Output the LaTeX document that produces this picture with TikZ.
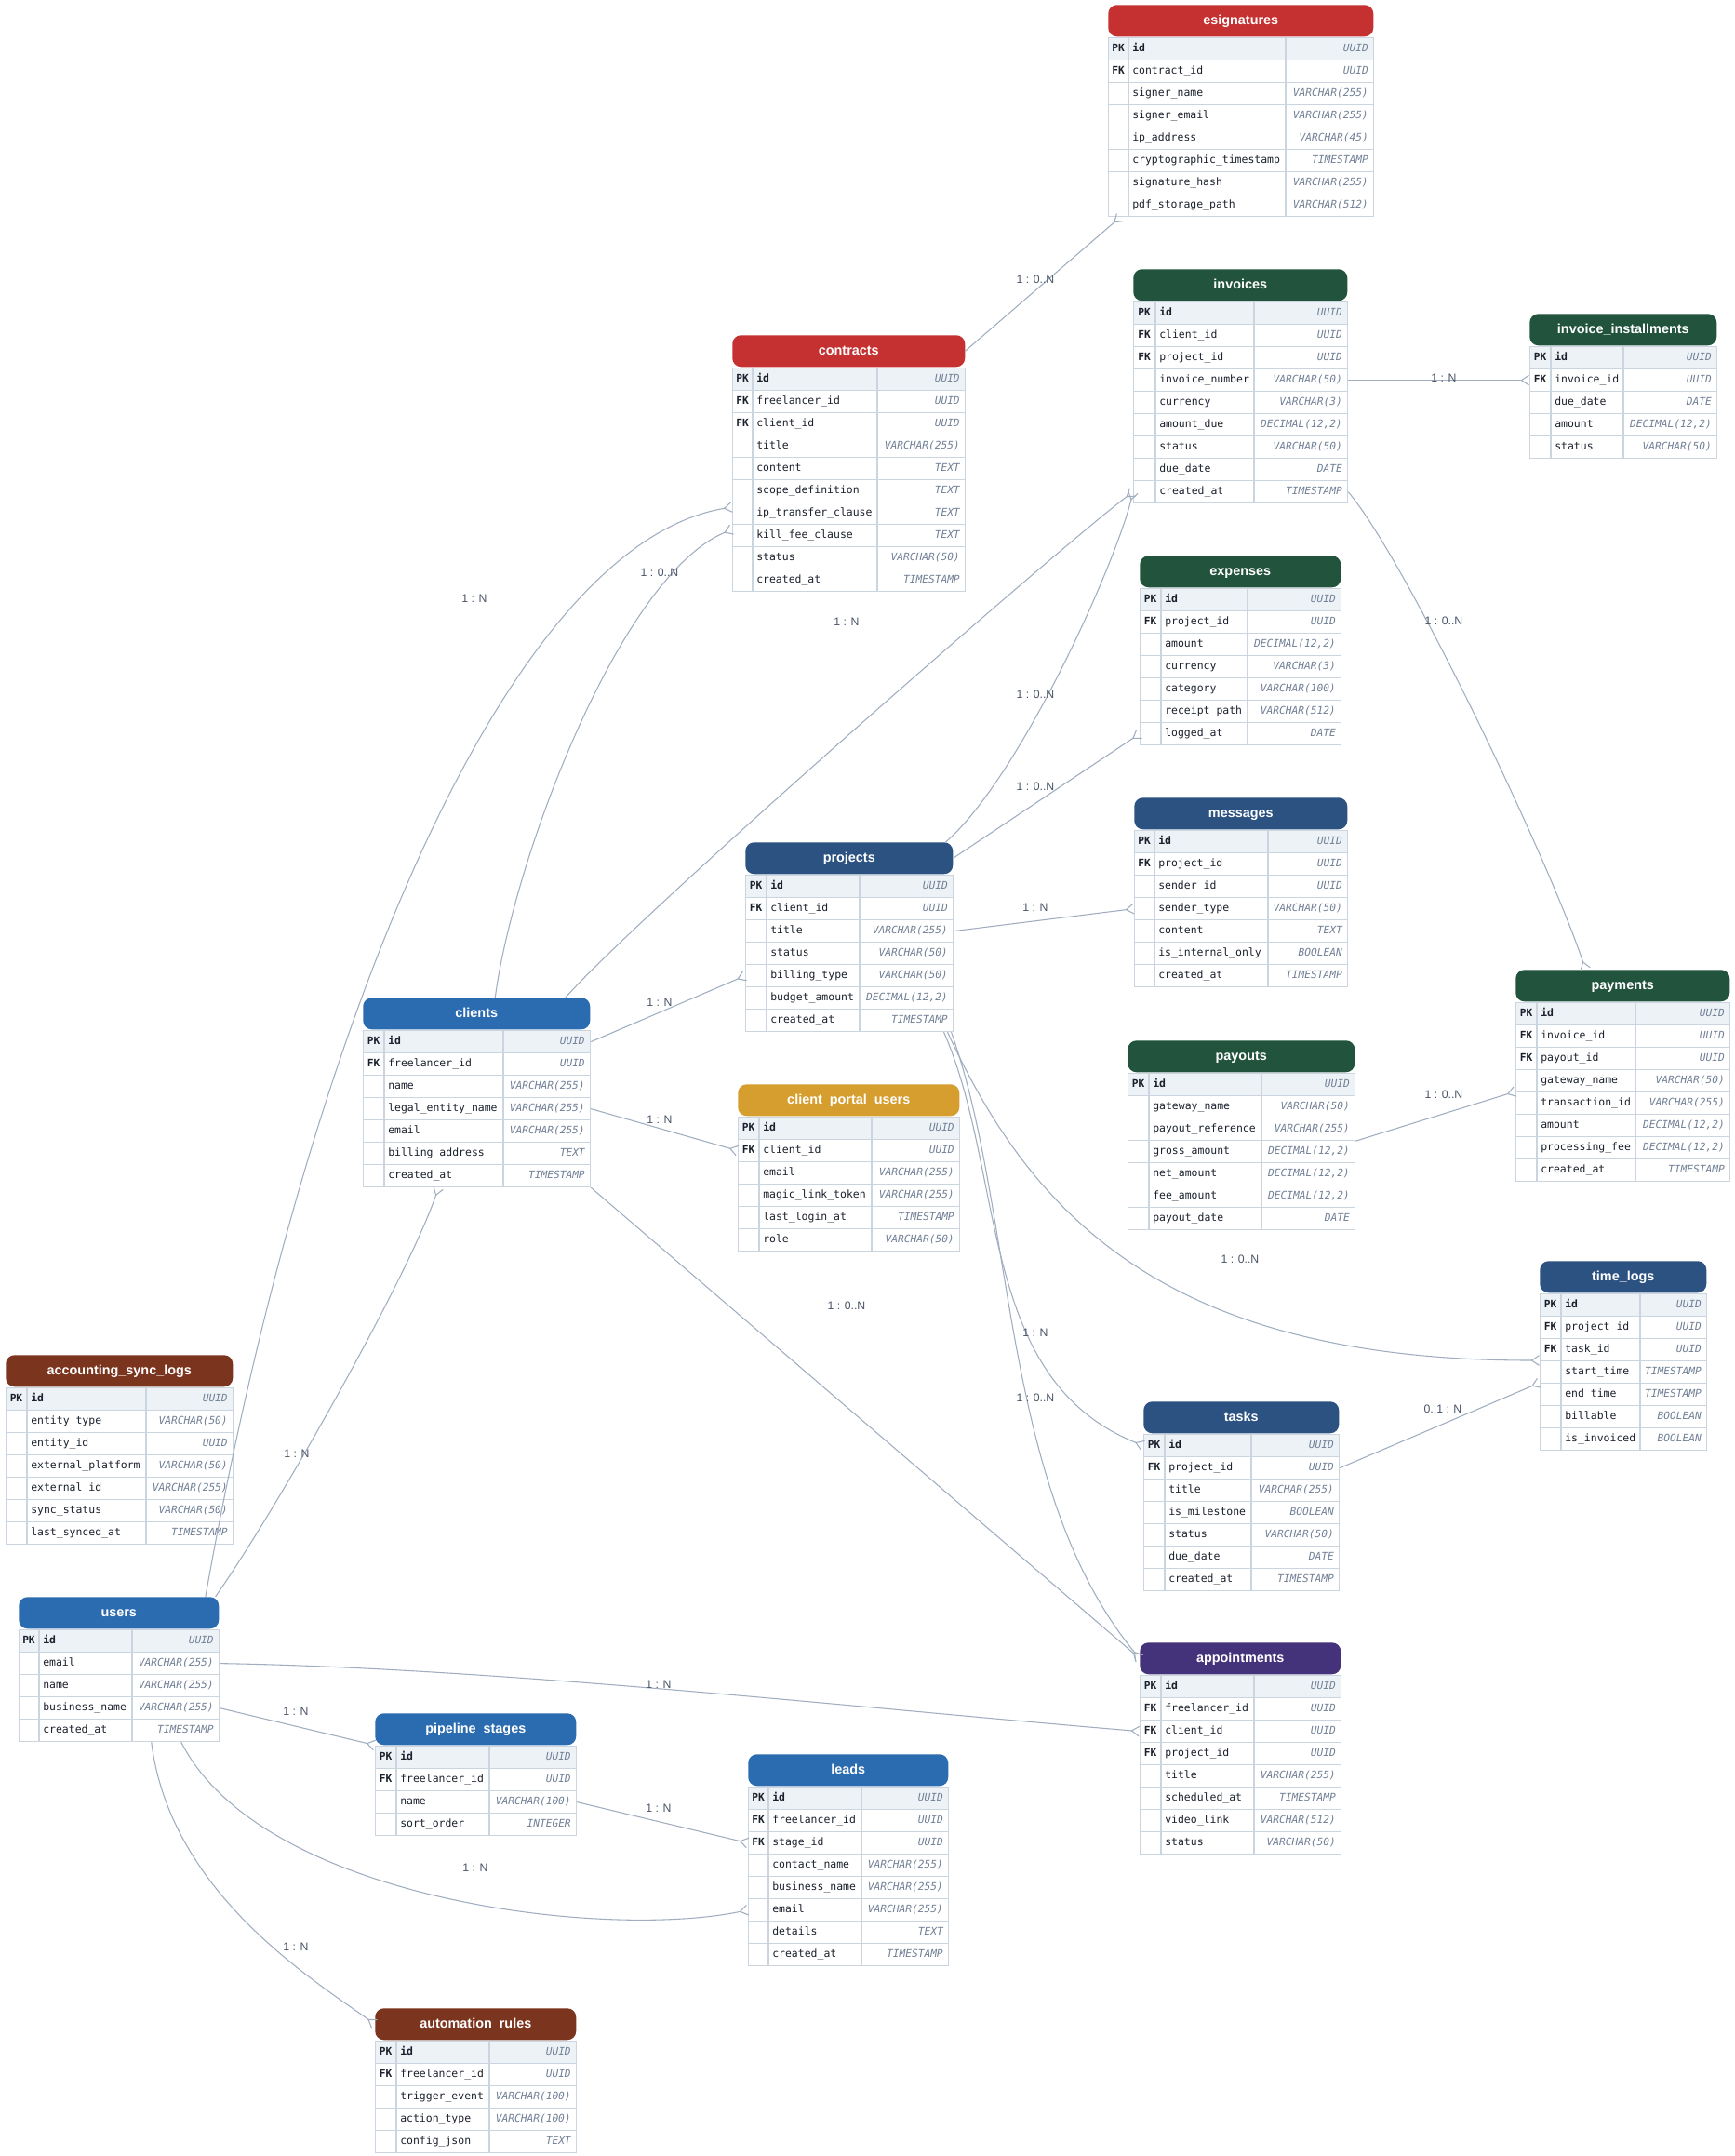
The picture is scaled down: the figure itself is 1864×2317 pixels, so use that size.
\documentclass[tikz,border=0pt]{standalone}
\usepackage{fontspec}
\setmainfont{Liberation Sans}
\setmonofont{DejaVu Sans Mono}
\usetikzlibrary{arrows.meta}

\definecolor{hdred}{HTML}{C53030}
\definecolor{hdgreen}{HTML}{22543D}
\definecolor{hdnavy}{HTML}{2C5282}
\definecolor{hdblue}{HTML}{2B6CB0}
\definecolor{hdgold}{HTML}{D69E2E}
\definecolor{hdbrown}{HTML}{7B341E}
\definecolor{hdpurple}{HTML}{44337A}
\definecolor{gridline}{HTML}{CBD5E0}
\definecolor{pkfill}{HTML}{EDF2F7}
\definecolor{typegray}{HTML}{718096}
\definecolor{fieldblack}{HTML}{1A202C}
\definecolor{edgegray}{HTML}{A0AEC0}
\definecolor{labelgray}{HTML}{4A5568}

\tikzset{
  erhead/.style={rounded corners=7pt, inner sep=0pt, minimum height=25.5pt, text=white,
    font=\rmfamily\bfseries\fontsize{10.8}{12}\selectfont, text height=8pt, text depth=2.2pt},
  errow/.style={draw=gridline, line width=0.9pt, inner sep=0pt, minimum height=18pt},
  ercol/.style={draw=gridline, line width=0.9pt},
  erkey/.style={inner sep=0pt, text=fieldblack, font=\ttfamily\bfseries\fontsize{8.4}{10}\selectfont,
    text height=6.5pt, text depth=1.8pt},
  erfield/.style={inner sep=0pt, text=fieldblack, font=\ttfamily\fontsize{8.6}{10}\selectfont,
    text height=6.5pt, text depth=1.8pt},
  ertype/.style={inner sep=0pt, text=typegray, font=\ttfamily\itshape\fontsize{8.4}{10}\selectfont,
    text height=6.5pt, text depth=1.8pt},
  rel/.style={draw=edgegray, line width=0.8pt, -{Straight Barb[reversed, length=6pt, width=8pt]}},
  lbl/.style={inner sep=1pt, text=labelgray, font=\rmfamily\fontsize{9.2}{11}\selectfont}
}

% table: name, colour, left, top, key|field x, field|type x, right, rows
\newcommand{\ertable}[8]{%
  \node[erhead, fill=#2, minimum width={(#7-#3)*0.75pt}, anchor=north west] (#1) at (#3,#4) {#1};
  \foreach \k/\f/\t [count=\i] in {#8}{
    \pgfmathsetmacro{\ya}{#4+35+(\i-1)*24}
    \pgfmathsetmacro{\yb}{\ya+24}
    \ifnum\i=1 \def\rowfill{pkfill}\def\fw{\bfseries}\else\def\rowfill{white}\def\fw{}\fi
    \node[errow, fill=\rowfill, minimum width={(#7-#3)*0.75pt}, anchor=north west] (#1-\i) at (#3,\ya) {};
    \draw[ercol] (#5,\ya) -- (#5,\yb) (#6,\ya) -- (#6,\yb);
    \node[erkey] (#1-\i-key) at ({(#3+#5)/2},\ya+12) {\k};
    \node[erfield, anchor=west] (#1-\i-name) at (#5+4,\ya+12) {\fw\f};
    \node[ertype, anchor=east] (#1-\i-type) at (#7-5,\ya+12) {\t};
  }
}

\catcode`\_=12

\begin{document}
\begin{tikzpicture}[x=0.75pt, y=-0.75pt]
	\fill[white] (0,0) rectangle (1864,2317);
	\useasboundingbox (0,0) rectangle (1864,2317);
	%
	\ertable{esignatures}{hdred}{1191}{5}{1213}{1382}{1476}{PK/id/UUID, FK/contract_id/UUID, /signer_name/VARCHAR(255), /signer_email/VARCHAR(255), /ip_address/VARCHAR(45), /cryptographic_timestamp/TIMESTAMP, /signature_hash/VARCHAR(255), /pdf_storage_path/VARCHAR(512)}
	\ertable{contracts}{hdred}{787}{360}{809}{943}{1037}{PK/id/UUID, FK/freelancer_id/UUID, FK/client_id/UUID, /title/VARCHAR(255), /content/TEXT, /scope_definition/TEXT, /ip_transfer_clause/TEXT, /kill_fee_clause/TEXT, /status/VARCHAR(50), /created_at/TIMESTAMP}
	\ertable{invoices}{hdgreen}{1218}{289}{1242}{1348}{1448}{PK/id/UUID, FK/client_id/UUID, FK/project_id/UUID, /invoice_number/VARCHAR(50), /currency/VARCHAR(3), /amount_due/{DECIMAL(12,2)}, /status/VARCHAR(50), /due_date/DATE, /created_at/TIMESTAMP}
	\ertable{invoice_installments}{hdgreen}{1644}{337}{1667}{1745}{1845}{PK/id/UUID, FK/invoice_id/UUID, /due_date/DATE, /amount/{DECIMAL(12,2)}, /status/VARCHAR(50)}
	\ertable{expenses}{hdgreen}{1225}{597}{1248}{1341}{1441}{PK/id/UUID, FK/project_id/UUID, /amount/{DECIMAL(12,2)}, /currency/VARCHAR(3), /category/VARCHAR(100), /receipt_path/VARCHAR(512), /logged_at/DATE}
	\ertable{messages}{hdnavy}{1219}{857}{1241}{1363}{1448}{PK/id/UUID, FK/project_id/UUID, /sender_id/UUID, /sender_type/VARCHAR(50), /content/TEXT, /is_internal_only/BOOLEAN, /created_at/TIMESTAMP}
	\ertable{projects}{hdnavy}{801}{905}{824}{924}{1024}{PK/id/UUID, FK/client_id/UUID, /title/VARCHAR(255), /status/VARCHAR(50), /billing_type/VARCHAR(50), /budget_amount/{DECIMAL(12,2)}, /created_at/TIMESTAMP}
	\ertable{client_portal_users}{hdgold}{793}{1165}{816}{937}{1031}{PK/id/UUID, FK/client_id/UUID, /email/VARCHAR(255), /magic_link_token/VARCHAR(255), /last_login_at/TIMESTAMP, /role/VARCHAR(50)}
	\ertable{clients}{hdblue}{390}{1072}{413}{541}{634}{PK/id/UUID, FK/freelancer_id/UUID, /name/VARCHAR(255), /legal_entity_name/VARCHAR(255), /email/VARCHAR(255), /billing_address/TEXT, /created_at/TIMESTAMP}
	\ertable{payouts}{hdgreen}{1212}{1118}{1235}{1356}{1456}{PK/id/UUID, /gateway_name/VARCHAR(50), /payout_reference/VARCHAR(255), /gross_amount/{DECIMAL(12,2)}, /net_amount/{DECIMAL(12,2)}, /fee_amount/{DECIMAL(12,2)}, /payout_date/DATE}
	\ertable{payments}{hdgreen}{1629}{1042}{1652}{1758}{1859}{PK/id/UUID, FK/invoice_id/UUID, FK/payout_id/UUID, /gateway_name/VARCHAR(50), /transaction_id/VARCHAR(255), /amount/{DECIMAL(12,2)}, /processing_fee/{DECIMAL(12,2)}, /created_at/TIMESTAMP}
	\ertable{time_logs}{hdnavy}{1655}{1355}{1678}{1763}{1834}{PK/id/UUID, FK/project_id/UUID, FK/task_id/UUID, /start_time/TIMESTAMP, /end_time/TIMESTAMP, /billable/BOOLEAN, /is_invoiced/BOOLEAN}
	\ertable{tasks}{hdnavy}{1229}{1506}{1252}{1345}{1439}{PK/id/UUID, FK/project_id/UUID, /title/VARCHAR(255), /is_milestone/BOOLEAN, /status/VARCHAR(50), /due_date/DATE, /created_at/TIMESTAMP}
	\ertable{accounting_sync_logs}{hdbrown}{6}{1456}{29}{157}{250}{PK/id/UUID, /entity_type/VARCHAR(50), /entity_id/UUID, /external_platform/VARCHAR(50), /external_id/VARCHAR(255), /sync_status/VARCHAR(50), /last_synced_at/TIMESTAMP}
	\ertable{users}{hdblue}{20}{1716}{42}{142}{235}{PK/id/UUID, /email/VARCHAR(255), /name/VARCHAR(255), /business_name/VARCHAR(255), /created_at/TIMESTAMP}
	\ertable{pipeline_stages}{hdblue}{403}{1841}{426}{526}{619}{PK/id/UUID, FK/freelancer_id/UUID, /name/VARCHAR(100), /sort_order/INTEGER}
	\ertable{appointments}{hdpurple}{1225}{1765}{1248}{1348}{1441}{PK/id/UUID, FK/freelancer_id/UUID, FK/client_id/UUID, FK/project_id/UUID, /title/VARCHAR(255), /scheduled_at/TIMESTAMP, /video_link/VARCHAR(512), /status/VARCHAR(50)}
	\ertable{leads}{hdblue}{804}{1885}{826}{926}{1019}{PK/id/UUID, FK/freelancer_id/UUID, FK/stage_id/UUID, /contact_name/VARCHAR(255), /business_name/VARCHAR(255), /email/VARCHAR(255), /details/TEXT, /created_at/TIMESTAMP}
	\ertable{automation_rules}{hdbrown}{403}{2158}{426}{526}{619}{PK/id/UUID, FK/freelancer_id/UUID, /trigger_event/VARCHAR(100), /action_type/VARCHAR(100), /config_json/TEXT}
	%
	% relations
	\draw[rel] (contracts.east) -- ([xshift=10pt]esignatures-8.south west);
	\draw[rel] ([xshift=-11pt]users.north east) .. controls +(110,-620) and +(-240,40) .. ([yshift=5pt]contracts-7.west);
	\draw[rel] ([xshift=15pt]clients.north) .. controls +(20,-150) and +(-120,50) .. ([yshift=5pt]contracts-8.west);
	\draw[rel] ([xshift=-20pt]clients.north east) .. controls +(80,-90) and +(-80,60) .. (invoices-9.west);
	\draw[rel] ([xshift=-6pt]projects.north east) .. controls +(80,-70) and +(-20,80) .. (invoices-9.west);
	\draw[rel] (invoices-4.east) -- (invoice_installments-2.west);
	\draw[rel] (invoices-9.east) .. controls +(60,70) and +(-40,-120) .. ([xshift=-30pt]payments.north);
	\draw[rel] (projects.east) -- (expenses-7.west);
	\draw[rel] (projects-3.east) -- (messages-4.west);
	\draw[rel] (clients-1.east) -- (projects-5.west);
	\draw[rel] (clients-4.east) -- (client_portal_users-2.west);
	\draw[rel] (clients-7.south east) -- (appointments.west);
	\draw[rel] ([xshift=-5pt]projects-7.south east) .. controls +(93,203) and +(-395,0) .. (time_logs-4.north west);
	\draw[rel] ([xshift=-8pt]projects-7.south east) .. controls +(67,153) and +(-179,-72) .. (tasks-1.west);
	\draw[rel] ([xshift=-2pt]projects-7.south east) .. controls +(69,193) and +(-150,-182) .. (appointments.west);
	\draw[rel] (tasks-2.east) -- (time_logs-5.north west);
	\draw[rel] (payouts-3.south east) -- (payments-5.north west);
	\draw[rel] ([xshift=-3pt]users.north east) .. controls +(70,-100) and +(-30,90) .. ([xshift=-31pt]clients-7.south);
	\draw[rel] (users-2.east) .. controls +(300,5) and +(-300,-25) .. (appointments-3.west);
	\draw[rel] (users-4.east) -- (pipeline_stages.south west);
	\draw[rel] (pipeline_stages-3.east) -- (leads-3.west);
	\draw[rel] ([xshift=50pt]users-5.south) .. controls +(86,170) and +(-154,32) .. (leads-6.west);
	\draw[rel] ([xshift=26pt]users-5.south) .. controls +(20,160) and +(-70,-50) .. (automation_rules.west);
	%
	% cardinalities
	\node[lbl] (l-esig) at (1113,300) {1 : 0..N};
	\node[lbl] (l-ucon) at (510,643) {1 : N};
	\node[lbl] (l-ccon) at (709,615) {1 : 0..N};
	\node[lbl] (l-cinv) at (910,668) {1 : N};
	\node[lbl] (l-pinv) at (1113,746) {1 : 0..N};
	\node[lbl] (l-inst) at (1552,406) {1 : N};
	\node[lbl] (l-ipay) at (1552,667) {1 : 0..N};
	\node[lbl] (l-pexp) at (1113,845) {1 : 0..N};
	\node[lbl] (l-pmsg) at (1113,975) {1 : N};
	\node[lbl] (l-cprj) at (709,1077) {1 : N};
	\node[lbl] (l-ccpu) at (709,1203) {1 : N};
	\node[lbl] (l-capp) at (910,1403) {1 : 0..N};
	\node[lbl] (l-ptim) at (1333,1353) {1 : 0..N};
	\node[lbl] (l-ptsk) at (1113,1432) {1 : N};
	\node[lbl] (l-papp) at (1113,1502) {1 : 0..N};
	\node[lbl] (l-ttim) at (1551,1514) {0..1 : N};
	\node[lbl] (l-opay) at (1552,1176) {1 : 0..N};
	\node[lbl] (l-ucli) at (319,1562) {1 : N};
	\node[lbl] (l-uapp) at (708,1810) {1 : N};
	\node[lbl] (l-upip) at (318,1839) {1 : N};
	\node[lbl] (l-plea) at (708,1943) {1 : N};
	\node[lbl] (l-ulea) at (511,2007) {1 : N};
	\node[lbl] (l-uaut) at (318,2092) {1 : N};
\end{tikzpicture}
\end{document}
